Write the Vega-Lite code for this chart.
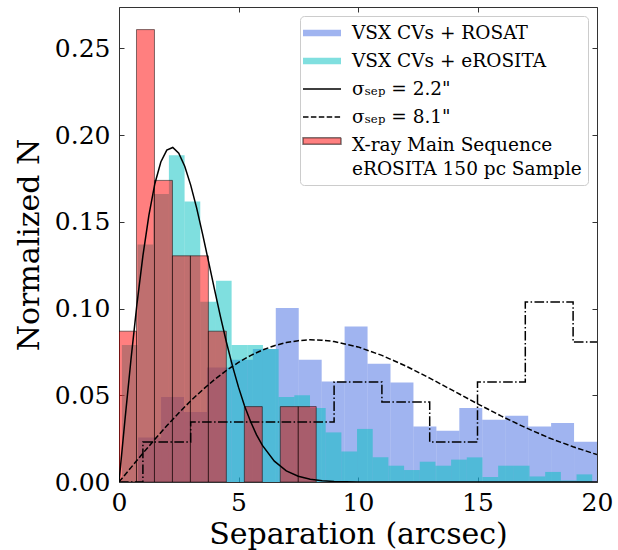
{
  "$schema": "https://vega.github.io/schema/vega-lite/v6.json",
  "width": 478,
  "height": 475,
  "autosize": {"type": "none"},
  "padding": {"left": 119, "top": 7, "right": 21, "bottom": 68},
  "background": "white",
  "config": {
    "view": {"stroke": "#333333", "strokeWidth": 1},
    "font": "DejaVu Serif",
    "axis": {
      "grid": false, "domain": false, "tickColor": "#333333", "tickWidth": 1, "tickSize": -5,
      "labelFont": "DejaVu Serif", "labelFontSize": 25, "labelColor": "black",
      "titleFont": "DejaVu Serif", "titleFontSize": 30, "titleFontWeight": "normal", "titleColor": "black",
      "zindex": 1, "labelFlush": false
    },
    "style": {"guide-label": {"lineHeight": 24}}
  },
  "datasets": {
    "rosat": [
      {"lo": 0.80, "hi": 1.76, "n": 0.0257},
      {"lo": 1.76, "hi": 2.72, "n": 0.0490},
      {"lo": 2.72, "hi": 3.68, "n": 0.0404},
      {"lo": 3.68, "hi": 4.64, "n": 0.0660},
      {"lo": 4.64, "hi": 5.60, "n": 0.0705},
      {"lo": 5.60, "hi": 6.56, "n": 0.0767},
      {"lo": 6.56, "hi": 7.52, "n": 0.1003},
      {"lo": 7.52, "hi": 8.48, "n": 0.0705},
      {"lo": 8.48, "hi": 9.44, "n": 0.0580},
      {"lo": 9.44, "hi": 10.40, "n": 0.0897},
      {"lo": 10.40, "hi": 11.36, "n": 0.0682},
      {"lo": 11.36, "hi": 12.32, "n": 0.0574},
      {"lo": 12.32, "hi": 13.28, "n": 0.0320},
      {"lo": 13.28, "hi": 14.24, "n": 0.0296},
      {"lo": 14.24, "hi": 15.20, "n": 0.0427},
      {"lo": 15.20, "hi": 16.16, "n": 0.0359},
      {"lo": 16.16, "hi": 17.12, "n": 0.0382},
      {"lo": 17.12, "hi": 18.08, "n": 0.0320},
      {"lo": 18.08, "hi": 19.04, "n": 0.0340},
      {"lo": 19.04, "hi": 20.00, "n": 0.0232}
    ],
    "erosita": [
      {"lo": 0.120, "hi": 0.776, "n": 0.0790},
      {"lo": 0.776, "hi": 1.432, "n": 0.1370},
      {"lo": 1.432, "hi": 2.088, "n": 0.1660},
      {"lo": 2.088, "hi": 2.744, "n": 0.1884},
      {"lo": 2.744, "hi": 3.400, "n": 0.1618},
      {"lo": 3.400, "hi": 4.056, "n": 0.1040},
      {"lo": 4.056, "hi": 4.712, "n": 0.1160},
      {"lo": 4.712, "hi": 5.368, "n": 0.0790},
      {"lo": 5.368, "hi": 6.024, "n": 0.0790},
      {"lo": 6.024, "hi": 6.680, "n": 0.0767},
      {"lo": 6.680, "hi": 7.336, "n": 0.0490},
      {"lo": 7.336, "hi": 7.992, "n": 0.0500},
      {"lo": 7.992, "hi": 8.648, "n": 0.0427},
      {"lo": 8.648, "hi": 9.304, "n": 0.0286},
      {"lo": 9.304, "hi": 9.960, "n": 0.0176},
      {"lo": 9.960, "hi": 10.616, "n": 0.0306},
      {"lo": 10.616, "hi": 11.272, "n": 0.0142},
      {"lo": 11.272, "hi": 11.928, "n": 0.0094},
      {"lo": 11.928, "hi": 12.584, "n": 0.0069},
      {"lo": 12.584, "hi": 13.240, "n": 0.0117},
      {"lo": 13.240, "hi": 13.896, "n": 0.0094},
      {"lo": 13.896, "hi": 14.552, "n": 0.0129},
      {"lo": 14.552, "hi": 15.208, "n": 0.0142},
      {"lo": 15.208, "hi": 15.864, "n": 0.0029},
      {"lo": 15.864, "hi": 16.520, "n": 0.0094},
      {"lo": 16.520, "hi": 17.176, "n": 0.0094},
      {"lo": 17.176, "hi": 17.832, "n": 0.0032},
      {"lo": 17.832, "hi": 18.488, "n": 0.0058},
      {"lo": 18.488, "hi": 19.144, "n": 0.0009},
      {"lo": 19.144, "hi": 19.800, "n": 0.0044}
    ],
    "ms": [
      {"lo": 0.000, "hi": 0.732, "n": 0.08696},
      {"lo": 0.732, "hi": 1.484, "n": 0.26087},
      {"lo": 1.484, "hi": 2.236, "n": 0.17391},
      {"lo": 2.236, "hi": 2.988, "n": 0.13043},
      {"lo": 2.988, "hi": 3.740, "n": 0.13043},
      {"lo": 3.740, "hi": 4.492, "n": 0.08696},
      {"lo": 5.244, "hi": 5.996, "n": 0.04348},
      {"lo": 6.748, "hi": 7.500, "n": 0.04348},
      {"lo": 7.500, "hi": 8.252, "n": 0.04348}
    ],
    "fit22": [
      {"x": 0, "y": 0}, {"x": 0.25, "y": 0.0359}, {"x": 0.5, "y": 0.0705}, {"x": 0.75, "y": 0.1024},
      {"x": 1, "y": 0.1304}, {"x": 1.25, "y": 0.1538}, {"x": 1.5, "y": 0.1720}, {"x": 1.75, "y": 0.1845},
      {"x": 2, "y": 0.1914}, {"x": 2.25, "y": 0.1929}, {"x": 2.5, "y": 0.1896}, {"x": 2.75, "y": 0.1821},
      {"x": 3, "y": 0.1712}, {"x": 3.25, "y": 0.1579}, {"x": 3.5, "y": 0.1428}, {"x": 3.75, "y": 0.1269},
      {"x": 4, "y": 0.1108}, {"x": 4.25, "y": 0.0951}, {"x": 4.5, "y": 0.0803}, {"x": 4.75, "y": 0.0668},
      {"x": 5, "y": 0.0547}, {"x": 5.25, "y": 0.0440}, {"x": 5.5, "y": 0.0350}, {"x": 5.75, "y": 0.0273},
      {"x": 6, "y": 0.0211}, {"x": 6.5, "y": 0.0120}, {"x": 7, "y": 0.0064}, {"x": 7.5, "y": 0.0033},
      {"x": 8, "y": 0.0016}, {"x": 8.5, "y": 0.0007}, {"x": 9, "y": 0.0003}, {"x": 10, "y": 0.0000},
      {"x": 20, "y": 0}
    ],
    "fit81": [
      {"x": 0, "y": 0}, {"x": 0.5, "y": 0.0083}, {"x": 1, "y": 0.0166}, {"x": 1.5, "y": 0.0246},
      {"x": 2, "y": 0.0324}, {"x": 2.5, "y": 0.0398}, {"x": 3, "y": 0.0468}, {"x": 3.5, "y": 0.0532},
      {"x": 4, "y": 0.0591}, {"x": 4.5, "y": 0.0644}, {"x": 5, "y": 0.0690}, {"x": 5.5, "y": 0.0729},
      {"x": 6, "y": 0.0761}, {"x": 6.5, "y": 0.0786}, {"x": 7, "y": 0.0804}, {"x": 7.5, "y": 0.0815},
      {"x": 8, "y": 0.0820}, {"x": 8.5, "y": 0.0818}, {"x": 9, "y": 0.0810}, {"x": 10, "y": 0.0779},
      {"x": 11, "y": 0.0730}, {"x": 12, "y": 0.0669}, {"x": 13, "y": 0.0599}, {"x": 14, "y": 0.0525},
      {"x": 15, "y": 0.0451}, {"x": 16, "y": 0.0380}, {"x": 17, "y": 0.0314}, {"x": 18, "y": 0.0254},
      {"x": 19, "y": 0.0203}, {"x": 20, "y": 0.0158}
    ],
    "step": [
      {"x": 0, "y": 0}, {"x": 1, "y": 0.0231}, {"x": 3, "y": 0.0346}, {"x": 5, "y": 0.0346},
      {"x": 7, "y": 0.0346}, {"x": 9, "y": 0.0577}, {"x": 11, "y": 0.0461}, {"x": 13, "y": 0.0231},
      {"x": 15, "y": 0.0577}, {"x": 17, "y": 0.1038}, {"x": 19, "y": 0.0807}, {"x": 20, "y": 0.0807}
    ],
    "legend": [
      {"s": "VSX CVs + ROSAT"}, {"s": "VSX CVs + eROSITA"}, {"s": "σₛₑₚ = 2.2\""}, {"s": "σₛₑₚ = 8.1\""},
      {"s": "X-ray Main Sequence|eROSITA 150 pc Sample"}
    ]
  },
  "resolve": {"axis": {"x": "independent", "y": "independent"}},
  "layer": [
    {
      "data": {"name": "rosat"},
      "mark": {"type": "bar", "fill": "#4169e1", "fillOpacity": 0.5, "clip": true},
      "encoding": {
        "x": {"field": "lo", "type": "quantitative", "scale": {"domain": [0, 20], "nice": false, "zero": false},
          "axis": {"orient": "bottom", "values": [0, 5, 10, 15, 20], "title": "Separation (arcsec)", "labelPadding": 13, "titlePadding": 4}},
        "x2": {"field": "hi"},
        "y": {"field": "n", "type": "quantitative", "scale": {"domain": [0, 0.2739], "nice": false},
          "axis": {"orient": "left", "values": [0, 0.05, 0.1, 0.15, 0.2, 0.25], "format": ".2f", "title": "Normalized N", "labelPadding": 14, "titlePadding": 10}},
        "y2": {"datum": 0}
      }
    },
    {
      "data": {"name": "erosita"},
      "mark": {"type": "bar", "fill": "#00bfbf", "fillOpacity": 0.5, "clip": true},
      "encoding": {
        "x": {"field": "lo", "type": "quantitative", "axis": null},
        "x2": {"field": "hi"},
        "y": {"field": "n", "type": "quantitative", "axis": null},
        "y2": {"datum": 0}
      }
    },
    {
      "data": {"name": "ms"},
      "mark": {"type": "bar", "fill": "#ff0000", "fillOpacity": 0.5, "stroke": "black", "strokeOpacity": 0.5, "strokeWidth": 1, "clip": true},
      "encoding": {
        "x": {"field": "lo", "type": "quantitative", "axis": null},
        "x2": {"field": "hi"},
        "y": {"field": "n", "type": "quantitative", "axis": null},
        "y2": {"datum": 0}
      }
    },
    {
      "data": {"name": "fit22"},
      "mark": {"type": "line", "color": "black", "strokeWidth": 1.5, "clip": true},
      "encoding": {
        "x": {"field": "x", "type": "quantitative", "axis": null},
        "y": {"field": "y", "type": "quantitative", "axis": null}
      }
    },
    {
      "data": {"name": "fit81"},
      "mark": {"type": "line", "color": "black", "strokeWidth": 1.5, "strokeDash": [5.5, 2.4], "clip": true},
      "encoding": {
        "x": {"field": "x", "type": "quantitative", "axis": null},
        "y": {"field": "y", "type": "quantitative", "axis": null}
      }
    },
    {
      "data": {"name": "step"},
      "mark": {"type": "line", "color": "black", "strokeWidth": 1.5, "strokeDash": [9.6, 2.4, 1.5, 2.4], "interpolate": "step-after", "clip": true},
      "encoding": {
        "x": {"field": "x", "type": "quantitative",
          "axis": {"orient": "top", "values": [0, 5, 10, 15, 20], "labels": false, "title": null}},
        "y": {"field": "y", "type": "quantitative",
          "axis": {"orient": "right", "values": [0, 0.05, 0.1, 0.15, 0.2, 0.25], "labels": false, "title": null}}
      }
    },
    {
      "data": {"name": "legend"},
      "transform": [{"filter": "false"}],
      "mark": {"type": "point", "filled": true, "opacity": 1, "strokeWidth": 1.5},
      "encoding": {
        "fill": {"field": "s", "type": "nominal",
          "scale": {"domain": ["VSX CVs + ROSAT", "VSX CVs + eROSITA", "σₛₑₚ = 2.2\"", "σₛₑₚ = 8.1\"", "X-ray Main Sequence|eROSITA 150 pc Sample"],
            "range": ["#a0b4f0", "#80dfdf", "rgba(0,0,0,0)", "rgba(0,0,0,0)", "#ff8080"]},
          "legend": {"title": null, "orient": "top-right", "offset": 9, "padding": 6, "fillColor": "rgba(255,255,255,0.8)",
            "strokeColor": "#cccccc", "cornerRadius": 4, "labelFont": "DejaVu Serif", "labelFontSize": 18.5, "labelColor": "black",
            "labelLimit": 400, "symbolSize": 400, "symbolOffset": -3, "labelOffset": 27, "rowPadding": 7,
            "symbolStrokeWidth": 1.5, "symbolOpacity": 1, "labelExpr": "split(datum.label, '|')"}},
        "stroke": {"field": "s", "type": "nominal",
          "scale": {"domain": ["VSX CVs + ROSAT", "VSX CVs + eROSITA", "σₛₑₚ = 2.2\"", "σₛₑₚ = 8.1\"", "X-ray Main Sequence|eROSITA 150 pc Sample"],
            "range": ["rgba(0,0,0,0)", "rgba(0,0,0,0)", "black", "black", "rgba(0,0,0,0.5)"]}},
        "shape": {"field": "s", "type": "nominal",
          "scale": {"domain": ["VSX CVs + ROSAT", "VSX CVs + eROSITA", "σₛₑₚ = 2.2\"", "σₛₑₚ = 8.1\"", "X-ray Main Sequence|eROSITA 150 pc Sample"],
            "range": ["M-1.1,-0.33H2.7V0.33H-1.1Z", "M-1.1,-0.33H2.7V0.33H-1.1Z", "M-1.1,0H2.7", "M-1.1,0H2.7", "M-1.1,-0.73H2.7V-0.07H-1.1Z"]}},
        "strokeDash": {"field": "s", "type": "nominal",
          "scale": {"domain": ["VSX CVs + ROSAT", "VSX CVs + eROSITA", "σₛₑₚ = 2.2\"", "σₛₑₚ = 8.1\"", "X-ray Main Sequence|eROSITA 150 pc Sample"],
            "range": [[1, 0], [1, 0], [1, 0], [5.5, 2.4], [1, 0]]}}
      }
    }
  ]
}
